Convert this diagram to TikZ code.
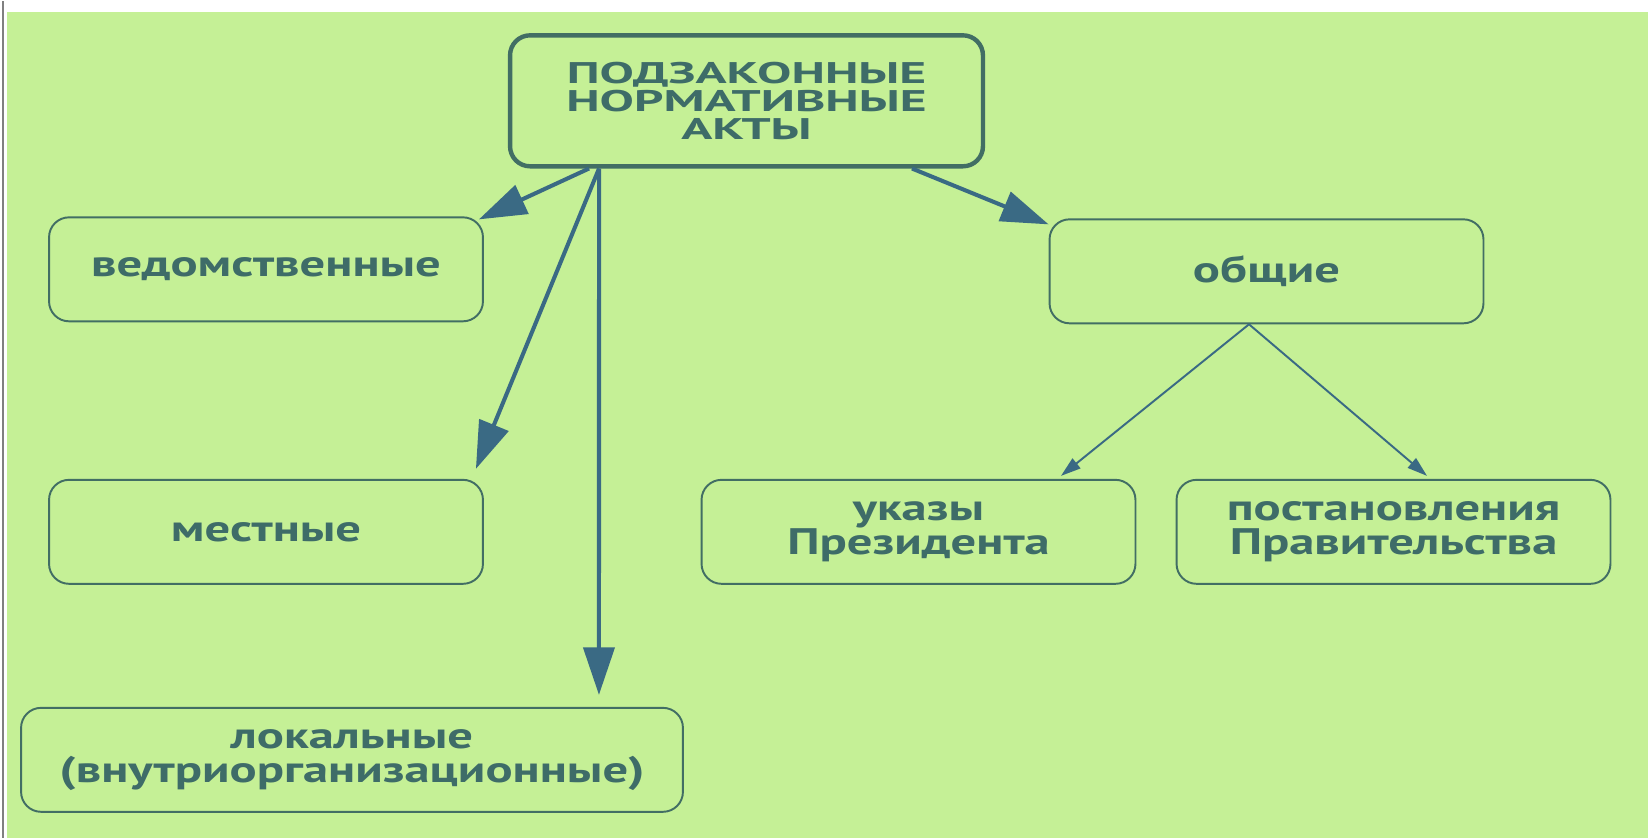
\documentclass[tikz,border=0pt]{standalone}
\usepackage{fontspec}
\setmainfont{PT Sans}
\newfontfamily\headfont[FakeStretch=1.72]{PT Sans}
\newfontfamily\itemfont[FakeStretch=1.37]{PT Sans}
\usetikzlibrary{arrows.meta}
\definecolor{bggreen}{RGB}{197,240,150}
\definecolor{boxline}{RGB}{66,110,100}
\definecolor{arrowblue}{RGB}{58,106,132}
\definecolor{textteal}{RGB}{62,108,104}
\tikzset{
	kind/.style={draw=boxline,line width=1.1pt,rounded corners=0.4cm,minimum width=8.68cm,minimum height=2.08cm,align=center,text=textteal,font=\itemfont\bfseries\fontsize{21}{19.5}\selectfont},
	head/.style={kind,line width=2.5pt,minimum width=9.46cm,minimum height=2.62cm,font=\headfont\bfseries\fontsize{17}{16}\selectfont},
	bigarrow/.style={arrowblue,line width=2.3pt,>={Triangle[length=0.95cm,width=0.62cm]}},
	smallarrow/.style={arrowblue,line width=1.1pt,>={Triangle[length=0.4cm,width=0.25cm]}}
}
\begin{document}
\begin{tikzpicture}[x=0.02cm,y=-0.02cm]
	\fill[white] (0,0) rectangle (1648,837);
	\fill[bggreen] (7,11) rectangle (1648,837);
	\draw[gray,line width=1.5pt] (3,0) -- (3,837);
	\node[head] (top) at (746.5,99.5) {ПОДЗАКОННЫЕ\\НОРМАТИВНЫЕ\\АКТЫ};
	\node[kind] (ved) at (266,268) {ведомственные};
	\node[kind] (mest) at (266,530.5) {местные};
	\node[kind,minimum width=13.24cm] (lok) at (352,758.5) {локальные\\(внутриорганизационные)};
	\node[kind] (obsh) at (1266.5,270) {общие};
	\node[kind] (ukaz) at (918.5,530.5) {указы\\Президента};
	\node[kind] (post) at (1393.5,530.5) {постановления\\Правительства};
	\draw[bigarrow,->] ([xshift=-3.15cm]top.south) -- ([xshift=-0.1cm,yshift=-0.06cm]ved.north east);
	\draw[bigarrow,->] ([xshift=-2.95cm]top.south) -- ([xshift=-0.16cm,yshift=0.2cm]mest.north east);
	\draw[bigarrow,->] ([xshift=-2.95cm]top.south) -- ([xshift=4.94cm,yshift=0.24cm]lok.north);
	\draw[bigarrow,->] ([xshift=3.31cm]top.south) -- ([yshift=-0.12cm]obsh.north west);
	\draw[smallarrow,->] ([xshift=-0.35cm]obsh.south) -- ([xshift=2.85cm,yshift=0.06cm]ukaz.north);
	\draw[smallarrow,->] ([xshift=-0.35cm]obsh.south) -- ([xshift=0.67cm,yshift=0.06cm]post.north);
\end{tikzpicture}
\end{document}
